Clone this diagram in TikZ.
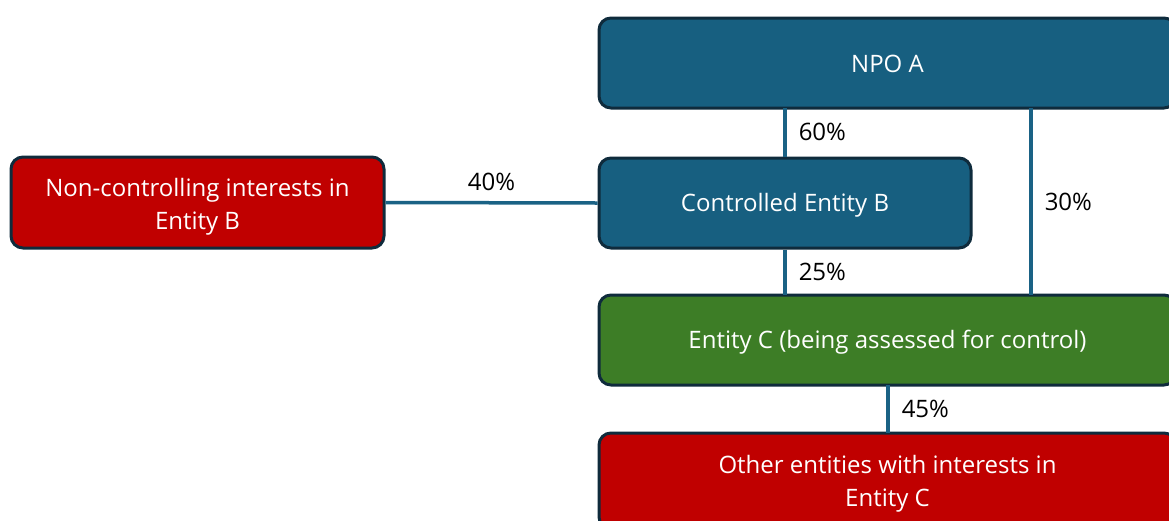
\documentclass[tikz,border=0pt]{standalone}
\usepackage{fontspec}
\setmainfont{Open Sans}
\definecolor{boxblue}{HTML}{175F80}
\definecolor{boxred}{HTML}{C00000}
\definecolor{boxgreen}{HTML}{3D7D26}
\definecolor{boxborder}{HTML}{0F2B3C}
\definecolor{linkblue}{HTML}{1A6285}
\tikzset{
  ent/.style={draw=boxborder, line width=3pt, rounded corners=12pt, inner sep=0pt},
  blueent/.style={ent, fill=boxblue},
  redent/.style={ent, fill=boxred},
  greenent/.style={ent, fill=boxgreen},
  txt/.style={text=white, align=center, inner sep=0pt, font=\fontsize{24}{33}\selectfont,
    text height=17pt, text depth=0pt},
  txttwo/.style={txt, text height=50pt},
  link/.style={draw=linkblue, line width=3.5pt},
  pct/.style={font=\fontsize{24}{28}\selectfont, text=black, inner sep=0pt,
    text height=17pt, text depth=0pt},
}
\begin{document}
\begin{tikzpicture}[x=1pt,y=-1pt]
\useasboundingbox (0,0) rectangle (1169,520);
\clip (0,0) rectangle (1169,520);
\node[blueent, minimum width=577pt, minimum height=90pt,
  label={[txt, yshift=-1pt]center:NPO A}] (npo) at (887.5,63) {};
\node[blueent, minimum width=372pt, minimum height=90pt,
  label={[txt]center:Controlled Entity B}] (ceb) at (785,203) {};
\node[redent, minimum width=373pt, minimum height=91pt,
  label={[txttwo, yshift=-2pt]center:Non-controlling interests in\\Entity B}] (nci) at (197.5,202.5) {};
\node[greenent, minimum width=577pt, minimum height=90pt,
  label={[txt]center:Entity C (being assessed for control)}] (ec) at (887.5,340) {};
\node[redent, minimum width=577pt, minimum height=96pt,
  label={[txttwo]center:Other entities with interests in\\Entity C}] (oe) at (887.5,481) {};
\coordinate (npoB) at (785,108);
\coordinate (npoR) at (1031,108);
\coordinate (ecT) at (785,295);
\coordinate (ecR) at (1031,295);
\coordinate (ecB) at (888,385);
\coordinate (oeT) at (888,433);
\draw[link] (npoB) -- (npoB |- ceb.north) node[pct, midway, anchor=west, xshift=12pt] (l60) {60\%};
\draw[link] (npoR) -- (ecR) node[pct, midway, anchor=west, xshift=12pt] (l30) {30\%};
\draw[link] (nci.east) -- (ceb.west) node[pct, midway, anchor=base, yshift=12pt] (l40) {40\%};
\draw[link] (npoB |- ceb.south) -- (ecT) node[pct, midway, anchor=west, xshift=12pt] (l25) {25\%};
\draw[link] (ecB) -- (oeT) node[pct, midway, anchor=west, xshift=12pt] (l45) {45\%};
\end{tikzpicture}
\end{document}
